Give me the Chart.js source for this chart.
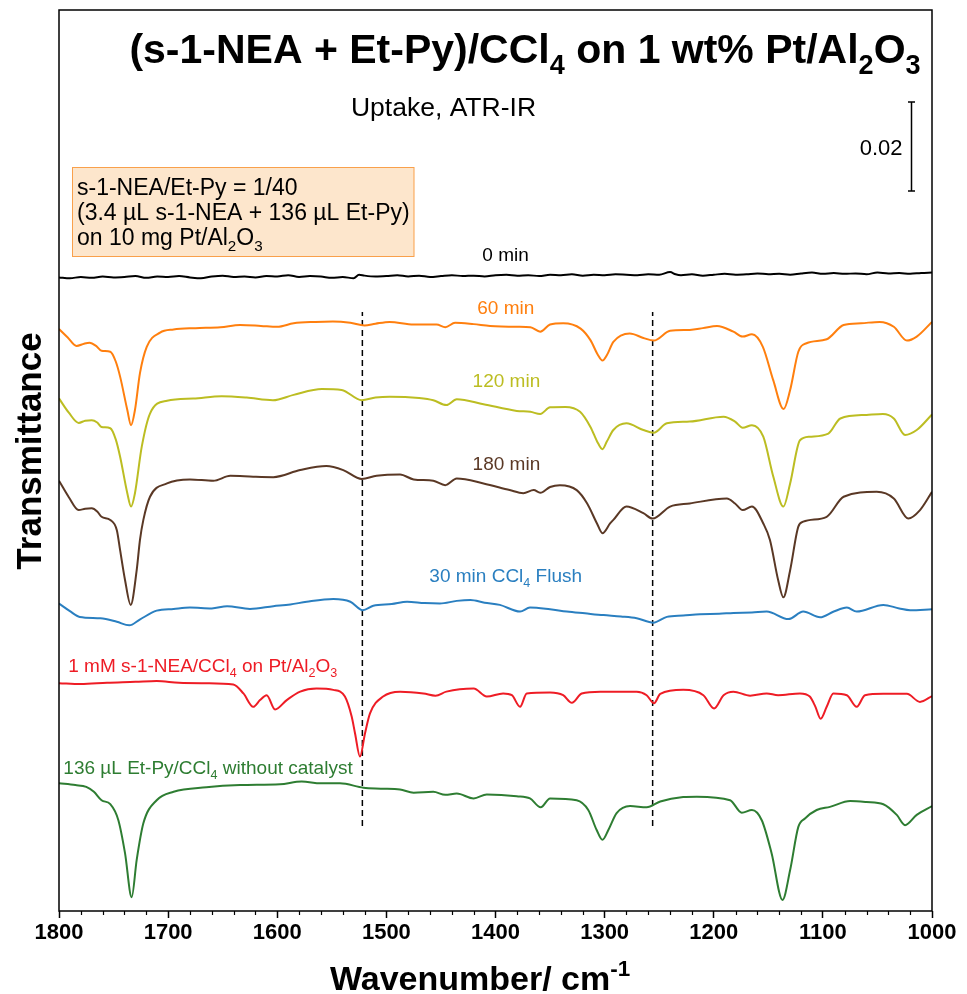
<!DOCTYPE html>
<html>
<head>
<meta charset="utf-8">
<script src="https://cdn.jsdelivr.net/npm/chart.js@4.4.1/dist/chart.umd.min.js"></script>
<style>
  html, body { margin: 0; padding: 0; background: #ffffff; }
  #wrap { width: 967px; height: 994px; position: relative; }
</style>
</head>
<body>
<div id="wrap"><canvas id="chart" width="967" height="994"></canvas></div>
<script>
const FONT = '"Liberation Sans", Arial, Helvetica, sans-serif';

// Spectra: [wavenumber (cm-1), stacked signal (10^-3 units)]
const min0 = [[1800,142.4],[1790,142.2],[1780,142.5],[1770,142.3],[1760,142.6],[1750,142.4],[1740,142.5],[1730,142.7],[1720,142.3],[1710,142.6],[1700,142.5],[1690,142.7],[1680,142.4],[1670,142.2],[1660,142.6],[1650,142.8],[1640,142.5],[1630,142.6],[1620,142.4],[1610,142.7],[1600,142.6],[1590,142.9],[1580,142.5],[1570,142.7],[1560,142.6],[1550,142.3],[1540,142.5],[1530,142.2],[1525,143.0],[1520,142.8],[1510,142.6],[1500,142.7],[1490,142.9],[1480,142.6],[1470,142.8],[1460,142.5],[1450,142.7],[1440,142.9],[1430,142.7],[1420,142.8],[1410,142.6],[1400,142.9],[1390,143.0],[1380,142.8],[1370,142.9],[1360,142.7],[1350,143.0],[1340,142.9],[1330,143.1],[1320,142.8],[1310,143.0],[1300,142.9],[1290,143.1],[1280,143.0],[1270,142.9],[1260,143.1],[1250,143.0],[1240,143.6],[1235,143.1],[1230,142.9],[1220,143.1],[1210,142.8],[1200,143.0],[1190,143.2],[1180,143.0],[1170,143.1],[1160,143.3],[1150,143.1],[1140,143.2],[1130,143.0],[1120,143.3],[1110,143.5],[1100,143.2],[1090,143.4],[1080,143.2],[1070,143.3],[1060,143.1],[1050,143.5],[1040,143.3],[1030,143.4],[1020,143.2],[1010,143.4],[1000,143.5]];

const min60 = [[1800,130.8],[1792,128.9],[1784,127.0],[1777,127.5],[1772,127.7],[1766,127.0],[1761,125.9],[1753,125.7],[1748,123.5],[1744,120.1],[1737.4,112.6],[1734,109.2],[1730.4,112.6],[1725.8,120.9],[1719.6,126.8],[1707.4,130.0],[1695,130.7],[1675,131.0],[1652,131.2],[1634,131.7],[1615,131.5],[1600,131.3],[1585,132.1],[1565,132.4],[1549,132.5],[1533,132.2],[1520,131.6],[1510,132.0],[1497,132.4],[1475,131.8],[1454,131.8],[1446,131.2],[1437,132.2],[1420,131.9],[1405,131.5],[1380,131.3],[1368,131.2],[1359,130.2],[1350,131.8],[1338,132.1],[1322,130.9],[1313,128.3],[1306,124.9],[1302,123.7],[1298,124.9],[1292,127.9],[1277,129.8],[1264.5,128.8],[1255,128.2],[1240,130.4],[1222,130.6],[1210,131.0],[1197,131.5],[1182,130.2],[1173.5,129.1],[1165,129.6],[1155,126.8],[1145.5,119.3],[1136,112.8],[1130,117.1],[1122.5,125.7],[1115,127.6],[1096.5,128.5],[1081,131.7],[1065,132.1],[1048,132.4],[1035,131.3],[1023,128.2],[1014,129.1],[1000,132.4]];

const min120 = [[1800,115.2],[1791,112.0],[1782,109.7],[1776,110.2],[1770,110.3],[1765,109.8],[1761,108.8],[1753,108.5],[1748,106.0],[1744,102.1],[1737.4,93.9],[1734,90.9],[1730.4,93.9],[1724.2,104.3],[1716.6,111.8],[1701,114.7],[1677,115.2],[1651,115.7],[1628,115.4],[1604,114.8],[1585,116.0],[1559,117.3],[1541,117.1],[1522.6,114.8],[1510,115.4],[1497,115.6],[1470,115.3],[1457,114.8],[1445,113.7],[1435.5,115.0],[1411,113.9],[1380.5,112.4],[1368,112.2],[1359,111.7],[1350,113.2],[1336,113.3],[1322.5,112.2],[1313,108.8],[1306,105.1],[1302,103.8],[1298,105.5],[1292,108.1],[1280,109.6],[1264.5,108.1],[1255,107.5],[1243,109.6],[1222,110.0],[1191,111.1],[1180.5,110.0],[1173.5,108.6],[1165,109.2],[1154.6,106.6],[1145.4,97.6],[1136.2,90.9],[1130,96.1],[1121,105.8],[1112,106.6],[1095,107.3],[1084,110.7],[1060,111.5],[1045,111.7],[1035,110.7],[1024.7,107.0],[1014,108.1],[1000,111.6]];

const min180 = [[1800,96.7],[1791,93.0],[1782,90.1],[1776,90.4],[1770,90.5],[1765,89.8],[1761,88.6],[1753,87.9],[1747,85.6],[1744,81.1],[1739.5,74.4],[1734.3,68.8],[1728.8,76.6],[1725.8,83.4],[1722.7,87.9],[1716.6,93.1],[1701,96.1],[1680,97.0],[1658.6,96.7],[1643,97.8],[1622,97.6],[1603.6,97.5],[1579,99.1],[1555,100.0],[1539.5,99.1],[1522.6,97.1],[1509,97.8],[1487.5,98.1],[1475,97.0],[1457,96.7],[1446,95.7],[1435.5,97.2],[1411,96.1],[1387,94.6],[1374.5,93.9],[1365,94.6],[1359,94.0],[1350,95.3],[1341,95.7],[1325.6,94.6],[1316,91.6],[1307,87.1],[1302,84.9],[1295,87.1],[1292,87.9],[1280,90.9],[1264.5,89.4],[1256,88.2],[1240,90.9],[1222,91.6],[1188,92.7],[1180.5,91.6],[1173.5,90.1],[1165,90.9],[1154.6,87.1],[1148.5,83.4],[1141,74.4],[1136.2,70.5],[1130,76.6],[1122.5,86.4],[1118,87.5],[1096.5,88.6],[1081,93.1],[1050.7,94.2],[1035,92.7],[1021.7,88.2],[1011,90.1],[1000,94.2]];

const flush30 = [[1800,69.1],[1790,67.4],[1781,66.1],[1762,65.8],[1747,65.0],[1735.6,64.2],[1726,65.5],[1710.5,67.5],[1695,67.9],[1680,68.2],[1660,68.0],[1646,68.5],[1625,67.9],[1603.6,68.5],[1588,68.9],[1573,69.5],[1548.6,70.1],[1533,69.5],[1521.7,67.6],[1512,68.6],[1495,69.0],[1481,69.5],[1465,69.2],[1451,69.1],[1435.5,69.7],[1423,69.9],[1410,69.3],[1396,68.8],[1377.5,67.3],[1368.4,68.2],[1350,67.8],[1334.7,67.3],[1318,66.9],[1301,66.5],[1285,66.2],[1270.6,65.8],[1255.4,64.8],[1243,66.1],[1228,66.4],[1212.6,66.7],[1195,66.8],[1182,67.0],[1165,67.1],[1151.5,67.3],[1131.6,65.6],[1118,67.3],[1102.6,66.0],[1090,67.3],[1078,68.2],[1069,67.3],[1044.6,68.8],[1030,68.0],[1020,67.6],[1000,67.8]];

const neaRef = [[1800,51.2],[1780,51.0],[1756,51.3],[1730,51.5],[1710.5,51.7],[1690,51.3],[1664.7,51.2],[1640.3,50.9],[1631,48.9],[1622,45.9],[1615.8,47.4],[1609.7,48.5],[1602,45.3],[1591.3,47.4],[1579,49.3],[1564,50.0],[1548.6,49.7],[1538,48.2],[1531.8,43.7],[1528.7,39.9],[1524.2,34.7],[1519.6,39.9],[1515,44.4],[1503,48.2],[1487.5,49.3],[1466,48.9],[1455,48.4],[1445,49.3],[1420,50.0],[1408,48.2],[1393,48.9],[1385,48.5],[1377.5,45.9],[1371.4,48.9],[1350,49.1],[1338,48.5],[1330,46.8],[1321,48.9],[1304,49.3],[1270.6,49.3],[1261.5,48.5],[1254.7,46.7],[1249,48.8],[1228,49.7],[1209.5,48.5],[1199.7,45.5],[1191,48.5],[1182,49.3],[1166.7,48.4],[1151.5,48.9],[1141,48.5],[1121,48.9],[1112,48.2],[1107,46.0],[1102,43.2],[1096.5,45.9],[1090.4,48.9],[1078,48.5],[1069,45.9],[1061.4,48.5],[1044.6,48.8],[1023,48.8],[1011,47.0],[1000,48.3]];

const etPyRef = [[1800,28.7],[1785,28.3],[1775,27.9],[1768,26.8],[1761,24.9],[1753,24.0],[1745.6,20.4],[1739.5,13.0],[1733.4,3.1],[1728.8,11.5],[1722.7,19.7],[1710.5,24.9],[1695,26.8],[1665,27.8],[1634,28.3],[1597.5,28.5],[1577.6,29.1],[1560,28.7],[1542.5,28.7],[1521,27.7],[1505,27.5],[1487.5,27.3],[1475,26.6],[1457,26.8],[1446,26.1],[1435.5,26.4],[1420,25.3],[1408,26.2],[1380.5,25.8],[1368.4,25.3],[1358.6,23.3],[1350,25.3],[1325.6,24.9],[1315,22.7],[1307.3,18.2],[1302,16.0],[1296.6,18.2],[1289,22.0],[1276.7,23.6],[1261.5,23.3],[1249,24.6],[1228,25.6],[1215.6,25.7],[1185,24.9],[1174.3,22.1],[1165,22.7],[1156,20.4],[1147,13.0],[1137,2.5],[1130,9.2],[1122.5,18.9],[1116.4,20.8],[1105.7,22.7],[1093.5,23.4],[1075,24.7],[1060,24.5],[1044.6,24.0],[1032.3,21.6],[1024.7,19.3],[1014,21.6],[1000,23.6]];

// Series names (markup: _{x} subscript, ^{x} superscript)
const seriesNames = ['0 min', '60 min', '120 min', '180 min', '30 min CCl_{4} Flush',
  '1 mM s-1-NEA/CCl_{4} on Pt/Al_{2}O_{3}', '136 µL Et-Py/CCl_{4} without catalyst'];
const seriesData = [min0, min60, min120, min180, flush30, neaRef, etPyRef];

// Reference band positions (cm-1) and their vertical extent
const bandLines = [1522, 1256];
const bandSpan = [19.1, 134.6];

// Axis ticks
const xTicks = [1800, 1700, 1600, 1500, 1400, 1300, 1200, 1100, 1000];
const scaleBarValue = 20; // 0.02

// Styling
const seriesColors = ['#000000', '#FF7F0E', '#BCBD22', '#5A3825', '#2A7FC0', '#EE1C25', '#2E7D32'];
// label anchors in data units: [wavenumber, level, alignment]
const labelAnchors = [[1390.8,147.6,'center'],[1390.6,135.8,'center'],[1390,119.3,'center'],[1390,100.6,'center'],[1460.6,75.5,'left'],[1791.5,55.3,'left'],[1796,32.4,'left']];

function richSegments(str) {
  const out = []; const re = /([_^])\{([^}]*)\}/g; let last = 0, m;
  while ((m = re.exec(str))) {
    if (m.index > last) out.push({ t: str.slice(last, m.index), k: 0 });
    out.push({ t: m[2], k: m[1] === '_' ? 1 : 2 });
    last = re.lastIndex;
  }
  if (last < str.length) out.push({ t: str.slice(last), k: 0 });
  return out;
}
function drawRich(ctx, str, x, y, size, opts) {
  const segs = richSegments(str);
  const weight = opts.bold ? 'bold ' : '';
  const small = size * 0.66;
  let w = 0;
  for (const s of segs) { ctx.font = weight + (s.k ? small : size) + 'px ' + FONT; s.w = ctx.measureText(s.t).width; w += s.w; }
  let sx = opts.align === 'center' ? x - w / 2 : opts.align === 'right' ? x - w : x;
  ctx.fillStyle = opts.color || '#000';
  ctx.textAlign = 'left'; ctx.textBaseline = 'alphabetic';
  for (const s of segs) {
    ctx.font = weight + (s.k ? small : size) + 'px ' + FONT;
    const dy = s.k === 1 ? size * 0.28 : s.k === 2 ? -size * 0.42 : 0;
    ctx.fillText(s.t, sx, y + dy);
    sx += s.w;
  }
  return w;
}

const decorations = {
  id: 'decorations',
  afterDraw(chart) {
    const { ctx, chartArea: a, scales: { x, y } } = chart;
    ctx.save();
    // frame
    ctx.strokeStyle = '#000'; ctx.lineWidth = 1.5;
    ctx.strokeRect(a.left, a.top, a.right - a.left, a.bottom - a.top);
    // minor ticks
    ctx.lineWidth = 1.2;
    for (let w = 1000; w <= 1800; w += 20) {
      if (w % 100 === 0) continue;
      const px = Math.round(x.getPixelForValue(w)) + 0.5;
      ctx.beginPath(); ctx.moveTo(px, a.bottom); ctx.lineTo(px, a.bottom + 4); ctx.stroke();
    }
    // scale bar
    const bx = Math.round(x.getPixelForValue(1019.5)) + 0.5;
    const b0 = y.getPixelForValue(161.8), b1 = y.getPixelForValue(161.8 + scaleBarValue);
    ctx.lineWidth = 1.5;
    ctx.beginPath();
    ctx.moveTo(bx, b0); ctx.lineTo(bx, b1);
    ctx.moveTo(bx - 3.5, b0); ctx.lineTo(bx + 3.5, b0);
    ctx.moveTo(bx - 3.5, b1); ctx.lineTo(bx + 3.5, b1);
    ctx.stroke();
    drawRich(ctx, '0.02', bx - 9, (b0 + b1) / 2 + 8, 22, { align: 'right' });

    // titles
    drawRich(ctx, '(s-1-NEA + Et-Py)/CCl_{4} on 1 wt% Pt/Al_{2}O_{3}', 525, 63, 41, { bold: true, align: 'center' });
    drawRich(ctx, 'Uptake, ATR-IR', 443.5, 115.5, 26.5, { align: 'center' });

    // info box
    ctx.fillStyle = '#FDE6CC'; ctx.fillRect(72.5, 167.5, 341.5, 89);
    ctx.strokeStyle = '#F9A04B'; ctx.lineWidth = 1; ctx.strokeRect(72.5, 167.5, 341.5, 89);
    drawRich(ctx, 's-1-NEA/Et-Py = 1/40', 77, 195, 23, { align: 'left' });
    drawRich(ctx, '(3.4 µL s-1-NEA + 136 µL Et-Py)', 77, 220, 23, { align: 'left' });
    drawRich(ctx, 'on 10 mg Pt/Al_{2}O_{3}', 77, 245, 23, { align: 'left' });

    // series labels
    seriesNames.forEach((name, i) => {
      const [wn, lv, al] = labelAnchors[i];
      drawRich(ctx, name, x.getPixelForValue(wn), y.getPixelForValue(lv) + 6.8, 19, { align: al, color: seriesColors[i] });
    });

    // axis titles
    drawRich(ctx, 'Wavenumber/ cm^{-1}', 480, 990, 34, { bold: true, align: 'center' });
    ctx.save();
    ctx.translate(41, 451); ctx.rotate(-Math.PI / 2);
    drawRich(ctx, 'Transmittance', 0, 0, 35, { bold: true, align: 'center' });
    ctx.restore();
    ctx.restore();
  }
};

const datasets = seriesData.map((d, i) => ({
  label: seriesNames[i],
  data: d.map(([wn, v]) => ({ x: wn, y: v })),
  borderColor: seriesColors[i],
  borderWidth: 2,
  pointRadius: 0,
  cubicInterpolationMode: 'monotone',
  fill: false
}));
bandLines.forEach(wn => datasets.push({
  label: 'band ' + wn,
  data: bandSpan.map(v => ({ x: wn, y: v })),
  borderColor: '#000', borderWidth: 1.5, borderDash: [6, 4], pointRadius: 0, fill: false
}));

new Chart(document.getElementById('chart'), {
  type: 'line',
  data: { datasets },
  options: {
    responsive: false,
    animation: false,
    events: [],
    layout: { padding: { top: 10, right: 35, left: 0, bottom: 0 } },
    plugins: { legend: { display: false }, tooltip: { enabled: false } },
    scales: {
      x: {
        type: 'linear', min: 1000, max: 1800, reverse: true,
        afterFit: s => { s.height = 83; },
        afterBuildTicks: s => { s.ticks = xTicks.map(v => ({ value: v })); },
        ticks: { color: '#000', font: { family: FONT, size: 22, weight: 'bold' }, padding: 2, maxRotation: 0, autoSkip: false,
                 callback: v => String(v) },
        grid: { drawOnChartArea: false, drawTicks: true, tickLength: 7, tickColor: '#000', tickWidth: 1.5, color: '#000' },
        border: { display: false }
      },
      y: {
        type: 'linear', min: 0, max: 202.5,
        afterFit: s => { s.width = 59; },
        ticks: { display: false },
        grid: { display: false },
        border: { display: false }
      }
    }
  },
  plugins: [decorations]
});
</script>
</body>
</html>
